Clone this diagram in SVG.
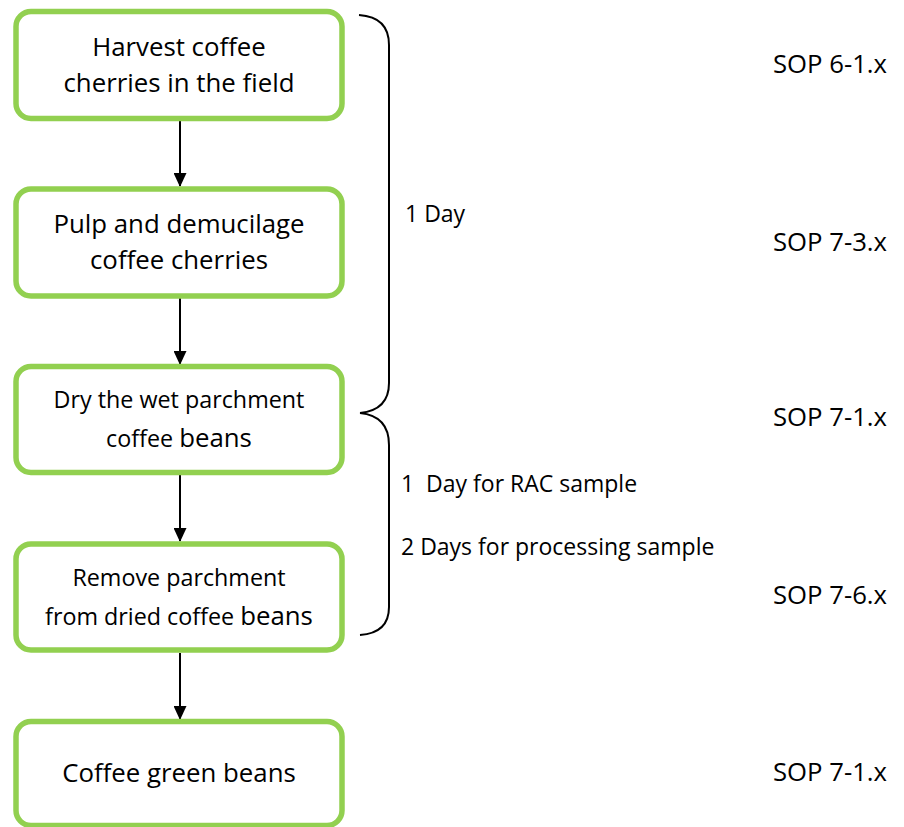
<svg xmlns="http://www.w3.org/2000/svg" width="904" height="827" viewBox="0 0 904 827">
<style>
.box{fill:#fff;stroke:#92D050;stroke-width:5.5}
.t{font-family:"Open Sans",Lato,sans-serif;font-size:25.8px;fill:#000;text-anchor:middle}
.s{font-size:23.3px}
.lbl{font-family:"Open Sans",Lato,sans-serif;font-size:23px;fill:#000;white-space:pre}
.sop{font-family:"Open Sans",Lato,sans-serif;font-size:25.7px;fill:#000}
.con{stroke:#000;stroke-width:2;fill:none}
.br{stroke:#000;stroke-width:2;fill:none}
</style>
<defs>
<marker id="ah" markerWidth="14" markerHeight="13" refX="13" refY="6.5" orient="auto" markerUnits="userSpaceOnUse">
<path d="M0,0 L14,6.5 L0,13 Z" fill="#000"/>
</marker>
</defs>
<g id="connectors">
<line class="con" x1="180" y1="121" x2="180" y2="186" marker-end="url(#ah)"/>
<line class="con" x1="180" y1="298" x2="180" y2="364" marker-end="url(#ah)"/>
<line class="con" x1="180" y1="475" x2="180" y2="541" marker-end="url(#ah)"/>
<line class="con" x1="180" y1="653" x2="180" y2="719" marker-end="url(#ah)"/>
</g>
<g id="n1"><rect class="box" x="16" y="11.5" width="326" height="107" rx="15"/>
<text class="t" x="179" y="56">Harvest coffee</text>
<text class="t" x="179" y="92">cherries in the field</text></g>
<g id="n2"><rect class="box" x="16" y="189" width="326" height="107" rx="15"/>
<text class="t" x="179" y="233">Pulp and demucilage</text>
<text class="t" x="179" y="269">coffee cherries</text></g>
<g id="n3"><rect class="box" x="16" y="366.5" width="326" height="106" rx="15"/>
<text class="t s" x="179" y="408">Dry the wet parchment</text>
<text class="t" x="179" y="447"><tspan class="s">coffee </tspan>beans</text></g>
<g id="n4"><rect class="box" x="16" y="544" width="326" height="106" rx="15"/>
<text class="t s" x="179" y="586">Remove parchment</text>
<text class="t" x="179" y="625"><tspan class="s">from dried coffee </tspan>beans</text></g>
<g id="n5"><rect class="box" x="16" y="721.5" width="326" height="104" rx="15"/>
<text class="t" x="179" y="782">Coffee green beans</text></g>
<g id="braces">
<path class="br" d="M359,15 Q389,17 389,45 L389,383 Q389,410 360,413"/>
<path class="br" d="M360,413 Q389,416 389,445 L389,607 Q389,633 360,635"/>
</g>
<g id="labels">
<text class="lbl" x="405" y="222">1 Day</text>
<text class="lbl" x="401" y="492" xml:space="preserve">1  Day for RAC sample</text>
<text class="lbl" x="401" y="555">2 Days for processing sample</text>
<text class="sop" x="773" y="73">SOP 6-1.x</text>
<text class="sop" x="773" y="251">SOP 7-3.x</text>
<text class="sop" x="773" y="426">SOP 7-1.x</text>
<text class="sop" x="773" y="604">SOP 7-6.x</text>
<text class="sop" x="773" y="781">SOP 7-1.x</text>
</g>
</svg>
